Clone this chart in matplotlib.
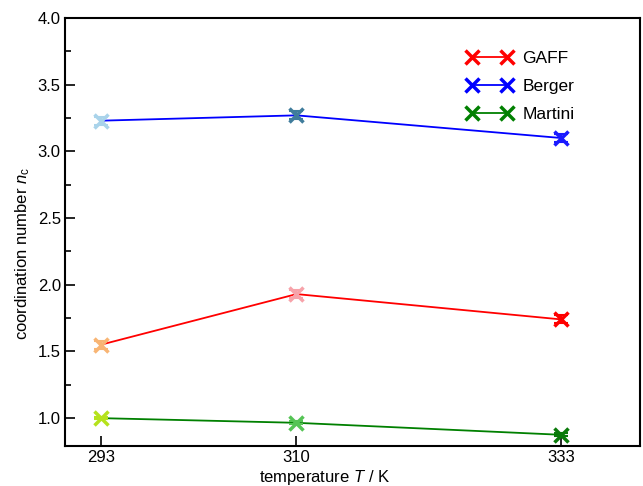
import matplotlib
matplotlib.use('Agg')
import matplotlib.pyplot as plt
from matplotlib.ticker import MultipleLocator

plt.rc('font', family='Liberation Sans', size=12)
plt.rc('mathtext', fontset='custom', rm='Liberation Sans',
       it='Liberation Sans:italic')

# Temperaturen und Koordinationszahlen
T = [293, 310, 333]
gaff = [1.55, 1.93, 1.74]
berger = [3.23, 3.27, 3.10]
martini = [1.00, 0.965, 0.875]
gaff_err = [0.03, 0.03, 0.03]
berger_err = [0.03, 0.03, 0.03]
martini_err = [0.01, 0.01, 0.01]

# Farbe der Linie und der Punkte je Temperatur
series = [
    ('GAFF', gaff, gaff_err, 'red', ['#f8b574', '#f7a3aa', '#ff0000']),
    ('Berger', berger, berger_err, 'blue', ['#a9d3ea', '#3f7c9c', '#1a1aff']),
    ('Martini', martini, martini_err, 'green', ['#b5e21c', '#55c455', '#0a7a0a']),
]

fig = plt.figure(figsize=(6.43, 4.86), dpi=100)
ax = fig.add_axes([0.101, 0.082, 0.894, 0.881])

for name, y, err, col, pcols in series:
    ax.plot(T, y, '-', color=col, lw=1.3, zorder=2)
    for t, v, e, c in zip(T, y, err, pcols):
        ax.errorbar(t, v, yerr=e, fmt='none', ecolor=c, elinewidth=1.5,
                    capsize=5, capthick=1.5, zorder=3)
        ax.plot(t, v, 'x', color=c, ms=10, mew=2.5, zorder=4)
    # Legendeneintrag
    ax.plot([], [], '-x', color=col, lw=1.3, ms=10, mew=2.5, label=name)

ax.set_xlim(289.9, 339.8)
ax.set_ylim(0.79, 4.0)
ax.set_xticks(T)
ax.yaxis.set_major_locator(MultipleLocator(0.5))
ax.yaxis.set_minor_locator(MultipleLocator(0.25))
ax.tick_params(axis='both', which='both', direction='in', width=1.2,
               top=False, right=False, pad=3)
ax.tick_params(axis='both', which='major', length=7)
ax.tick_params(axis='y', which='minor', length=4)
for s in ax.spines.values():
    s.set_linewidth(1.5)

ax.set_xlabel(r'temperature $T$ / K')
ax.set_ylabel(r'coordination number $n_{\rm c}$')
ax.xaxis.set_label_coords(0.452, -0.051)
ax.yaxis.set_label_coords(-0.058, 0.45)

ax.legend(loc='upper left', bbox_to_anchor=(0.699, 0.924), frameon=False,
          numpoints=2, handlelength=2.6, handletextpad=0.6, labelspacing=0.76,
          borderaxespad=0, borderpad=0, fontsize=12.5)

plt.savefig('out.png', dpi=100)
